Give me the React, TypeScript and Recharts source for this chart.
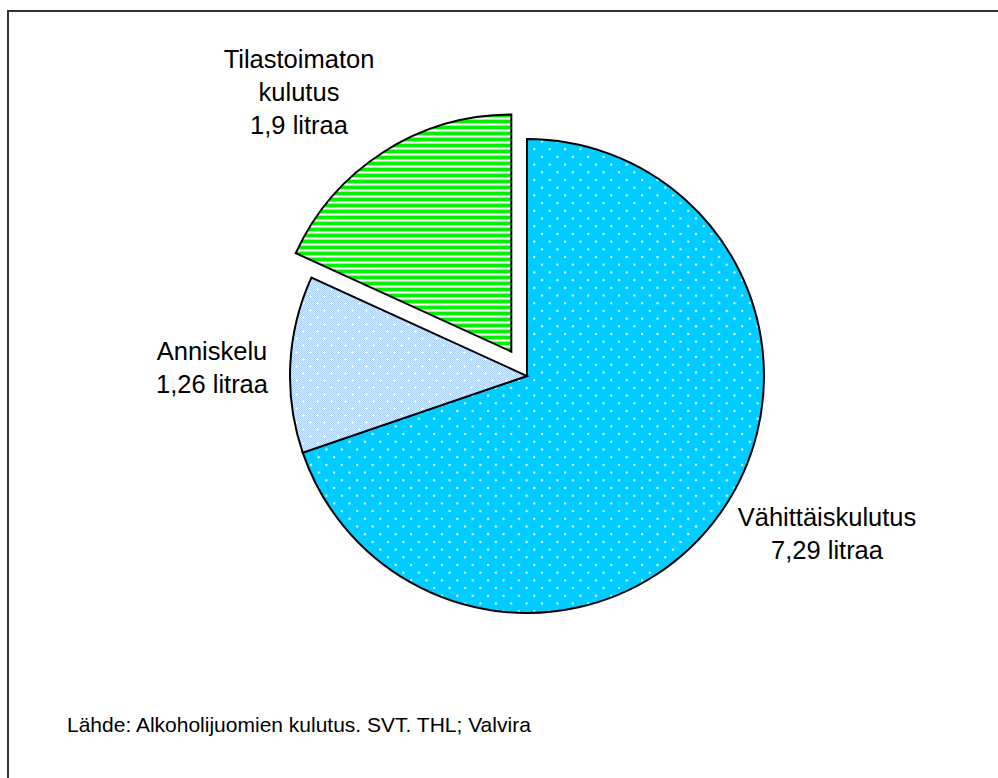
import React from "react";
import { PieChart, Pie, Cell } from "recharts";

// Alkoholijuomien kokonaiskulutus, litraa 100 % alkoholia asukasta kohden
const categories = ["Vähittäiskulutus", "Anniskelu", "Tilastoimaton\nkulutus"];
const litres = [7.29, 1.26, 1.9];
const fills = ["url(#dotsBlue)", "url(#anniskelu)", "url(#stripesGreen)"];
const unit = "litraa";
const source = "Lähde: Alkoholijuomien kulutus. SVT. THL; Valvira";

const data = categories.map((name, i) => ({ name, value: litres[i] }));

const W = 998;
const H = 778;
const CX = 527;
const CY = 376;
const R = 237;
const EXPLODE_INDEX = 2;
const EXPLODE_DIST = 29;

// label anchor (x, first baseline) relative to the pie centre
const labelPos = [
  { dx: 300, dy: 150 },
  { dx: -315, dy: -16 },
  { dx: -228, dy: -308 },
];

const font = "'Liberation Sans', Arial, sans-serif";

function explodeOffset() {
  const total = litres.reduce((a, b) => a + b, 0);
  const before = litres.slice(0, EXPLODE_INDEX).reduce((a, b) => a + b, 0);
  const start = 90 - (360 * before) / total;
  const end = start - (360 * litres[EXPLODE_INDEX]) / total;
  const mid = ((start + end) / 2) * (Math.PI / 180);
  return { dx: Math.cos(mid) * EXPLODE_DIST, dy: -Math.sin(mid) * EXPLODE_DIST };
}

const fmt = (v: number) => `${String(v).replace(".", ",")} ${unit}`;

function renderLabel(props: any) {
  const i = props.index as number;
  const pos = labelPos[i];
  const lines = [...categories[i].split("\n"), fmt(litres[i])];
  return (
    <text
      key={`lbl-${i}`}
      x={CX + pos.dx}
      y={CY + pos.dy}
      textAnchor="middle"
      fontFamily={font}
      fontSize={25.5}
      fill="#000"
    >
      {lines.map((t, k) => (
        <tspan key={k} x={CX + pos.dx} dy={k === 0 ? 0 : 33}>
          {t}
        </tspan>
      ))}
    </text>
  );
}

export default function App() {
  const off = explodeOffset();
  return (
    <div style={{ position: "absolute", left: 0, top: 0, width: W, height: H, overflow: "hidden", background: "#fff" }}>
      <div
        style={{
          position: "absolute",
          left: 7,
          top: 10,
          width: 1100,
          height: 900,
          border: "2px solid #333",
          boxSizing: "border-box",
        }}
      />
      <div style={{ position: "absolute", left: 0, top: 0 }}>
        <PieChart width={W} height={H} margin={{ top: 0, right: 0, bottom: 0, left: 0 }}>
          <defs>
            <pattern id="dotsBlue" patternUnits="userSpaceOnUse" width={15.4} height={15.4}>
              <rect width={15.4} height={15.4} fill="#00ccff" />
              <circle cx={3} cy={3} r={1.2} fill="#e8faff" />
              <circle cx={10.7} cy={10.7} r={1.2} fill="#e8faff" />
            </pattern>
            <pattern id="checker" patternUnits="userSpaceOnUse" width={2} height={2}>
              <rect width={2} height={2} fill="#e0ecfc" />
              <rect width={1} height={1} fill="#a9cdf6" />
              <rect x={1} y={1} width={1} height={1} fill="#a9cdf6" />
            </pattern>
            <pattern id="anniskelu" patternUnits="userSpaceOnUse" width={14} height={14}>
              <rect width={14} height={14} fill="url(#checker)" />
              <rect x={2} y={1} width={1} height={3} fill="#fff" />
              <rect x={1} y={2} width={3} height={1} fill="#fff" />
              <rect x={9} y={8} width={1} height={3} fill="#fff" />
              <rect x={8} y={9} width={3} height={1} fill="#fff" />
            </pattern>
            <pattern id="stripesGreen" patternUnits="userSpaceOnUse" width={6} height={6}>
              <rect width={6} height={6} fill="#ffffff" />
              <rect y={0} width={6} height={3} fill="#00f000" />
              <rect y={3} width={6} height={1} fill="#8cff8c" />
              <rect y={5} width={6} height={1} fill="#8cff8c" />
            </pattern>
          </defs>
          <Pie
            data={data}
            dataKey="value"
            nameKey="name"
            cx={CX}
            cy={CY}
            outerRadius={R}
            startAngle={90}
            endAngle={-270}
            stroke="#000"
            strokeWidth={2}
            label={renderLabel}
            labelLine={false}
            isAnimationActive={false}
          >
            {data.map((d, i) => (
              <Cell
                key={d.name}
                fill={i === EXPLODE_INDEX ? "none" : fills[i]}
                stroke={i === EXPLODE_INDEX ? "none" : "#000"}
              />
            ))}
          </Pie>
          <Pie
            data={data}
            dataKey="value"
            nameKey="name"
            cx={CX + off.dx}
            cy={CY + off.dy}
            outerRadius={R}
            startAngle={90}
            endAngle={-270}
            stroke="#000"
            strokeWidth={2}
            labelLine={false}
            isAnimationActive={false}
          >
            {data.map((d, i) => (
              <Cell
                key={d.name}
                fill={i === EXPLODE_INDEX ? fills[i] : "none"}
                stroke={i === EXPLODE_INDEX ? "#000" : "none"}
              />
            ))}
          </Pie>
        </PieChart>
      </div>
      <div
        style={{
          position: "absolute",
          left: 67,
          top: 711,
          fontFamily: font,
          fontSize: 21,
          lineHeight: "28px",
          color: "#000",
          whiteSpace: "nowrap",
        }}
      >
        {source}
      </div>
    </div>
  );
}
